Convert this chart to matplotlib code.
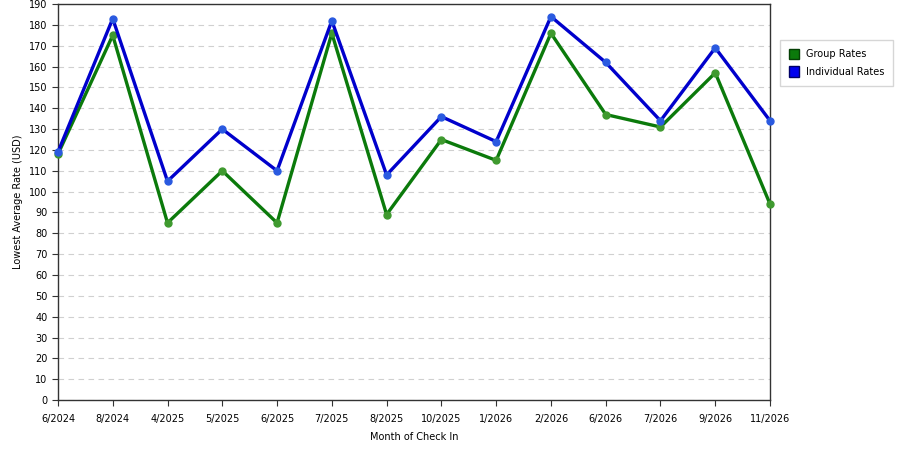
import matplotlib
matplotlib.use("Agg")
import matplotlib.pyplot as plt
from matplotlib.patches import Patch

# Month labels along the x axis
months = ["6/2024", "8/2024", "4/2025", "5/2025", "6/2025", "7/2025", "8/2025",
          "10/2025", "1/2026", "2/2026", "6/2026", "7/2026", "9/2026", "11/2026"]

# Lowest average rates (USD)
group_rates = [118, 175, 85, 110, 85, 176, 89, 125, 115, 176, 137, 131, 157, 94]
individual_rates = [119, 183, 105, 130, 110, 182, 108, 136, 124, 184, 162, 134, 169, 134]

fig = plt.figure(figsize=(9, 4.5), dpi=100)
ax = fig.add_axes([0.0644, 0.111, 0.7912, 0.880])

x = list(range(len(months)))
ax.plot(x, group_rates, color="#0b7a0b", lw=2.4, marker="o", ms=5,
        mfc="#3f9a2f", mec="#3f9a2f", zorder=3, clip_on=False)
ax.plot(x, individual_rates, color="#0000cc", lw=2.4, marker="o", ms=5,
        mfc="#2a5ae0", mec="#2a5ae0", zorder=4, clip_on=False)

ax.set_xlim(0, len(months) - 1)
ax.set_ylim(0, 190)
ax.set_xticks(x)
ax.set_xticklabels(months, fontsize=7)
ax.set_yticks(range(0, 191, 10))
ax.tick_params(axis="y", labelsize=7, length=4, width=0.8, color="#333333")
ax.tick_params(axis="x", length=4, width=0.8, color="#333333", pad=6)
ax.yaxis.grid(True, ls=(0, (5, 4)), color="#d0d0d0", lw=0.8)
ax.set_axisbelow(True)
for s in ax.spines.values():
    s.set_color("#333333")
    s.set_linewidth(1.0)

ax.set_xlabel("Month of Check In", fontsize=7, labelpad=6)
ax.set_ylabel("Lowest Average Rate (USD)", fontsize=7, labelpad=4)

handles = [Patch(facecolor="#0b7a0b", edgecolor="#054005", label="Group Rates"),
           Patch(facecolor="#0000ee", edgecolor="#000066", label="Individual Rates")]
fig.legend(handles=handles, loc="upper left", bbox_to_anchor=(0.8667, 0.911),
           borderaxespad=0, fontsize=7, frameon=True, fancybox=False,
           edgecolor="#cccccc", handlelength=1.1, handleheight=1.3,
           handletextpad=0.7, borderpad=0.9, labelspacing=0.7)

fig.savefig("out.png", dpi=100)
